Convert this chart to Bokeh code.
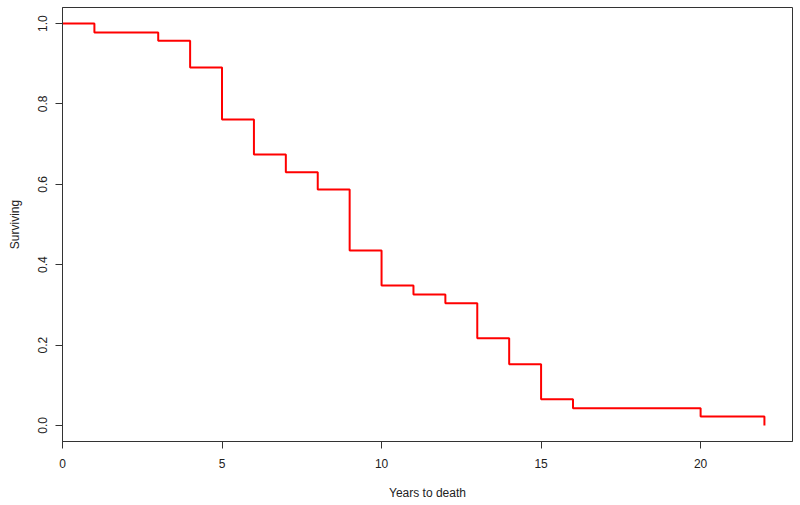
from bokeh.plotting import figure
from bokeh.models import Range1d, FixedTicker, NumeralTickFormatter
from bokeh.embed import file_html
from bokeh.resources import INLINE

# Data
years = [0, 1, 3, 4, 5, 6, 7, 8, 9, 10, 11, 12, 13, 14, 15, 16, 20, 22]
surviving = [1.0, 0.978, 0.957, 0.891, 0.761, 0.674, 0.630, 0.587, 0.435,
             0.348, 0.326, 0.304, 0.217, 0.152, 0.065, 0.043, 0.022, 0.0]
x_ticks = [0, 5, 10, 15, 20]
y_ticks = [0.0, 0.2, 0.4, 0.6, 0.8, 1.0]

FONT = "Liberation Sans"

p = figure(width=800, height=505, output_backend="svg", toolbar_location=None,
           x_range=Range1d(0, 22.88), y_range=Range1d(-0.04, 1.04),
           min_border_left=62, min_border_right=8, min_border_top=7,
           min_border_bottom=64)

p.step(years, surviving, mode="after", line_color="red", line_width=2)

p.background_fill_color = "white"
p.border_fill_color = "white"
p.outline_line_color = "#333333"
p.outline_line_width = 1
p.xgrid.visible = False
p.ygrid.visible = False

for ax in (p.xaxis, p.yaxis):
    ax.axis_line_color = "#333333"
    ax.major_tick_line_color = "#333333"
    ax.minor_tick_line_color = None
    ax.major_tick_out = 7
    ax.major_tick_in = 0
    ax.major_label_text_font = FONT
    ax.major_label_text_font_size = "12px"
    ax.major_label_text_color = "#222222"
    ax.axis_label_text_font = FONT
    ax.axis_label_text_font_size = "12px"
    ax.axis_label_text_font_style = "normal"
    ax.axis_label_text_color = "#222222"

p.xaxis.ticker = FixedTicker(ticks=x_ticks)
p.yaxis.ticker = FixedTicker(ticks=y_ticks)
p.yaxis.formatter = NumeralTickFormatter(format="0.0")
p.yaxis.major_label_orientation = "parallel"

p.xaxis.axis_label = "Years to death"
p.yaxis.axis_label = "Surviving"
p.xaxis.major_label_standoff = 10
p.xaxis.axis_label_standoff = 15
p.yaxis.major_label_standoff = 8
p.yaxis.axis_label_standoff = 14

open("out.html", "w").write(file_html(p, INLINE))
